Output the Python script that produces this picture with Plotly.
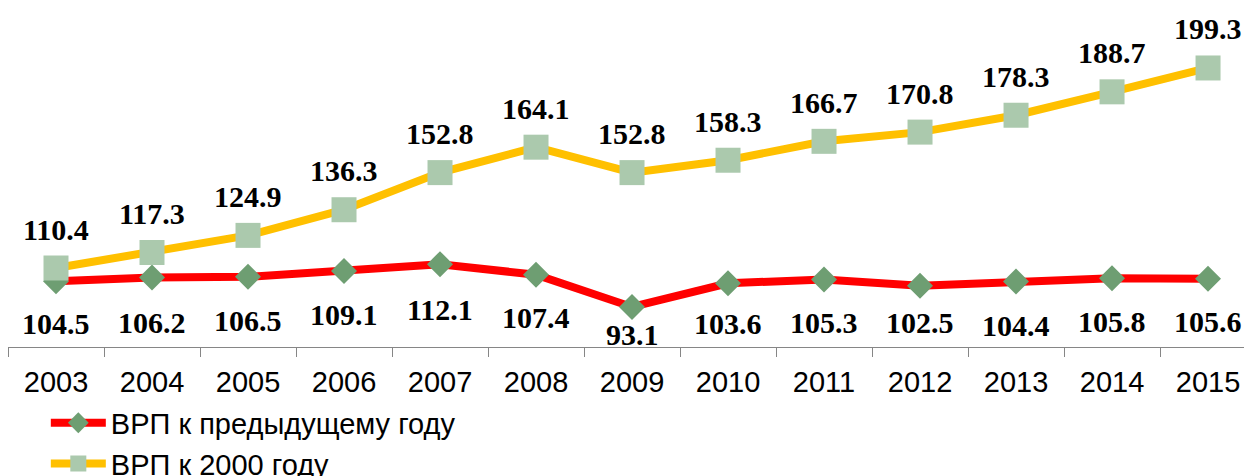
import plotly.graph_objects as go

years = ["2003", "2004", "2005", "2006", "2007", "2008", "2009",
         "2010", "2011", "2012", "2013", "2014", "2015"]
grp_prev_year = [104.5, 106.2, 106.5, 109.1, 112.1, 107.4, 93.1,
                 103.6, 105.3, 102.5, 104.4, 105.8, 105.6]
grp_to_2000 = [110.4, 117.3, 124.9, 136.3, 152.8, 164.1, 152.8,
               158.3, 166.7, 170.8, 178.3, 188.7, 199.3]
name_prev = "ВРП к предыдущему году"
name_2000 = "ВРП к 2000 году"

# label placement (pixels, style only)
red_label_shift = [-42, -45, -44, -44, -45, -43, -28, -40, -43, -37, -44, -43, -43]
yellow_label_shift = 39

fig = go.Figure()
fig.add_trace(go.Scatter(
    x=years, y=grp_prev_year, name=name_prev, mode="lines+markers",
    line=dict(color="#FF0000", width=8),
    marker=dict(symbol="diamond", size=20, color="#6E9E72"),
))
fig.add_trace(go.Scatter(
    x=years, y=grp_to_2000, name=name_2000, mode="lines+markers",
    line=dict(color="#FFC000", width=8),
    marker=dict(symbol="square", size=25, color="#ABC9AD"),
))

label_font = dict(family="Liberation Serif", size=30, color="black")
for i, yr in enumerate(years):
    fig.add_annotation(x=i, y=grp_prev_year[i], xref="x", yref="y",
                       text=f"<b>{grp_prev_year[i]:.1f}</b>",
                       showarrow=False, yshift=red_label_shift[i], font=label_font)
    fig.add_annotation(x=i, y=grp_to_2000[i], xref="x", yref="y",
                       text=f"<b>{grp_to_2000[i]:.1f}</b>",
                       showarrow=False, yshift=yellow_label_shift, font=label_font)

fig.update_layout(
    width=1244, height=468,
    margin=dict(l=0, r=0, t=0, b=129, autoexpand=False),
    paper_bgcolor="white", plot_bgcolor="white",
    showlegend=True,
    legend=dict(
        x=0.0304, y=0.168, xref="container", yref="container",
        xanchor="left", yanchor="top",
        font=dict(family="Liberation Sans", size=29, color="black"),
        bgcolor="rgba(0,0,0,0)", itemwidth=55, tracegroupgap=0,
    ),
    xaxis=dict(
        type="category", range=[-0.5, 12.458],
        showline=True, linecolor="#868686", linewidth=1,
        ticks="outside", tickson="boundaries", ticklen=9, tickcolor="#868686",
        ticklabelstandoff=9,
        tickfont=dict(family="Liberation Sans", size=29, color="black"),
        showgrid=False, zeroline=False, fixedrange=True,
    ),
    yaxis=dict(
        range=[75.29, 225.96], visible=False, showgrid=False, zeroline=False,
    ),
)

fig.write_html("out.html")
